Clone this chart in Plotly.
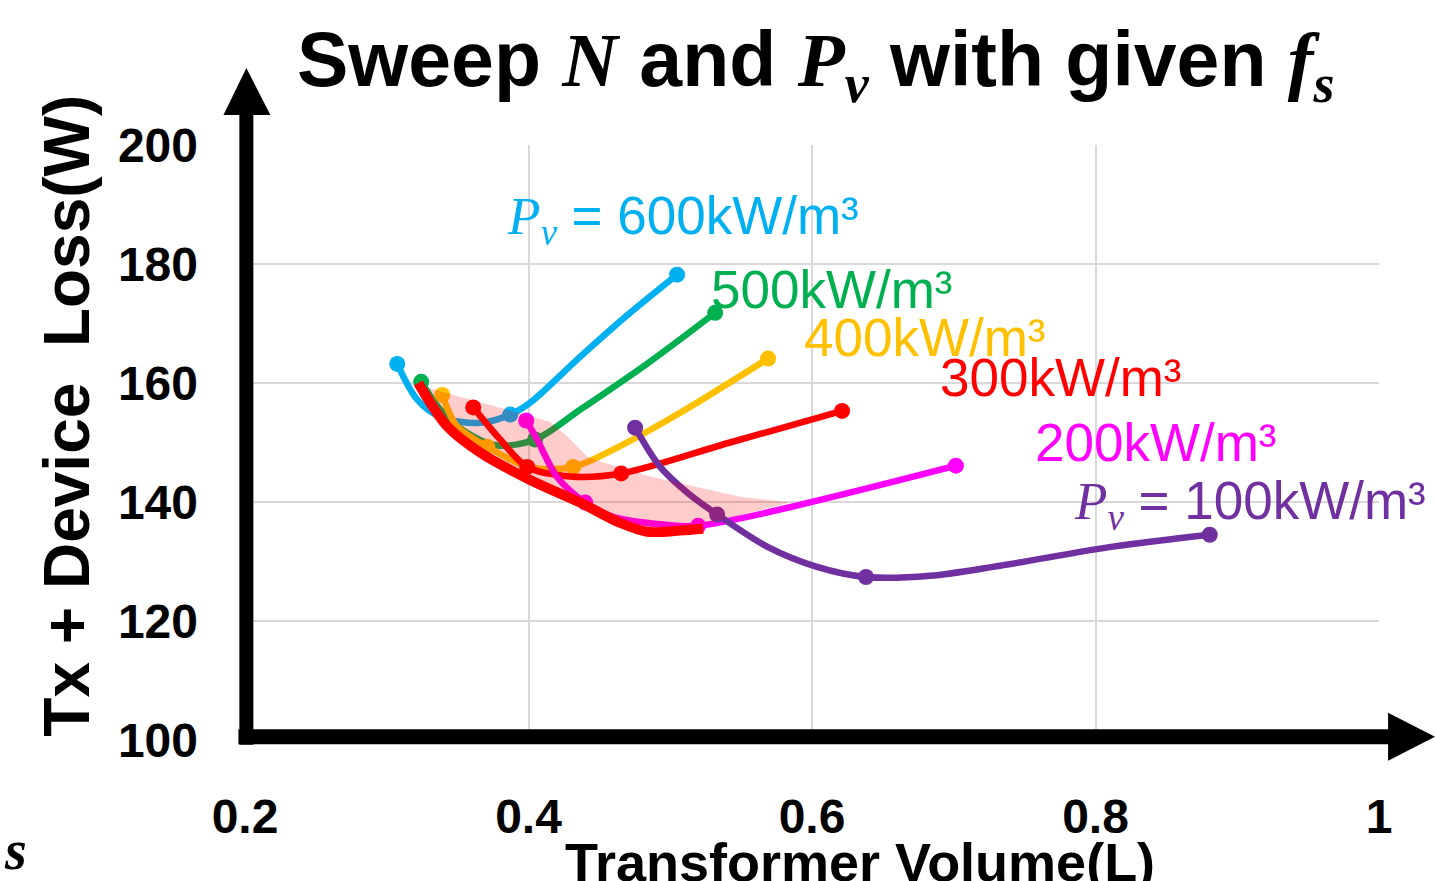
import plotly.graph_objects as go

# ---------------- data ----------------
# Pv = 600 kW/m3
x_600 = [0.3074, 0.3215, 0.3378, 0.3660, 0.3871, 0.4012, 0.4364, 0.4717, 0.5048]
y_600 = [163.2, 157.2, 154.3, 153.3, 154.7, 156.7, 164.4, 171.8, 178.2]
mk_600 = [0, 4, 8]
# Pv = 500 kW/m3
x_500 = [0.3243, 0.3378, 0.3553, 0.3779, 0.4047, 0.4364, 0.4858, 0.5317]
y_500 = [160.2, 155.5, 151.8, 149.5, 150.5, 155.5, 163.6, 171.8]
mk_500 = [0, 4, 7]
# Pv = 400 kW/m3
x_400 = [0.3392, 0.3497, 0.3709, 0.4012, 0.4315, 0.4597, 0.5070, 0.5690]
y_400 = [158.0, 152.7, 149.3, 145.8, 145.9, 148.8, 155.0, 164.1]
mk_400 = [0, 2, 4, 7]
# Pv = 300 kW/m3
x_300 = [0.3610, 0.3800, 0.3991, 0.4294, 0.4654, 0.5422, 0.6212]
y_300 = [155.9, 150.5, 145.9, 144.3, 144.8, 150.0, 155.3]
mk_300 = [0, 2, 4, 6]
# Pv = 200 kW/m3
x_200 = [0.3984, 0.4061, 0.4202, 0.4400, 0.4597, 0.4950, 0.5197, 0.7015]
y_200 = [153.7, 150.5, 144.2, 139.9, 137.5, 136.2, 136.0, 146.1]
mk_200 = [0, 3, 6, 7]
# Pv = 100 kW/m3
x_100 = [0.4752, 0.4929, 0.5119, 0.5331, 0.5683, 0.6035, 0.6381, 0.6832, 0.7326, 0.8122, 0.8806]
y_100 = [152.5, 145.9, 141.6, 137.9, 132.5, 129.1, 127.4, 127.6, 129.3, 132.5, 134.5]
mk_100 = [0, 3, 6, 10]

# optimal front (thick red)
x_front = [0.3222, 0.3427, 0.3660, 0.4012, 0.4364, 0.4646, 0.4837, 0.5070, 0.5232]
y_front = [160.0, 152.7, 148.3, 143.7, 139.9, 136.5, 135.0, 135.2, 135.5]

# upper edge of the shaded band
x_band = [0.3286, 0.3660, 0.4153, 0.4273, 0.4414, 0.4505, 0.4858, 0.5492, 0.5845]
y_band = [159.2, 156.7, 153.5, 151.0, 147.6, 146.8, 144.3, 140.9, 139.9]

labels = ["600kW/m³", "500kW/m³", "400kW/m³", "300kW/m³", "200kW/m³", "100kW/m³"]
colors = ["#00B0F0", "#00B050", "#FFC000", "#FF0000", "#FF00FF", "#7030A0"]

x_ticks = [0.2, 0.4, 0.6, 0.8, 1.0]
x_ticktext = ["0.2", "0.4", "0.6", "0.8", "1"]
y_ticks = [100, 120, 140, 160, 180, 200]

# ---------------- figure ----------------
fig = go.Figure()
series = [(x_600, y_600, mk_600), (x_500, y_500, mk_500), (x_400, y_400, mk_400),
          (x_300, y_300, mk_300), (x_200, y_200, mk_200), (x_100, y_100, mk_100)]

for (xs, ys, mk), c in zip(series, colors):
    fig.add_trace(go.Scatter(x=xs, y=ys, mode="lines",
                             line=dict(color=c, width=6.5, shape="spline", smoothing=0.9),
                             hoverinfo="skip"))
    fig.add_trace(go.Scatter(x=[xs[i] for i in mk], y=[ys[i] for i in mk], mode="markers",
                             marker=dict(color=c, size=16), hoverinfo="skip"))

# shaded band (drawn over the thin curves, semi-transparent)
band_x = x_band + [x_200[6]] + x_front[::-1]
band_y = y_band + [y_200[6]] + y_front[::-1]
fig.add_trace(go.Scatter(x=band_x, y=band_y, mode="lines", fill="toself",
                         fillcolor="rgba(255,0,0,0.2)", line=dict(width=0, color="rgba(0,0,0,0)"),
                         hoverinfo="skip"))

fig.add_trace(go.Scatter(x=x_front, y=y_front, mode="lines",
                         line=dict(color="#FF0000", width=10, shape="spline", smoothing=0.9),
                         hoverinfo="skip"))

MATH = "font-family:'Liberation Serif',serif"
pv = f"<span style=\"{MATH}\"><i>P<sub>v</sub></i></span>"

ann = []
label_pos = [(0.2296, 0.874, pv + " = " + labels[0]),
             (0.4094, 0.7564, labels[1]),
             (0.4914, 0.6758, labels[2]),
             (0.6112, 0.6086, labels[3]),
             (0.6950, 0.4994, labels[4]),
             (0.7293, 0.3952, pv + " = " + labels[5])]
for (x, y, t), c in zip(label_pos, colors):
    ann.append(dict(x=x, y=y, xref="paper", yref="paper", text=t, showarrow=False,
                    xanchor="left", yanchor="middle", font=dict(size=53, color=c)))

title = (f"<b>Sweep <span style=\"{MATH}\"><i>N</i></span> and {pv} "
         f"with given <span style=\"{MATH}\"><i>f<sub>s</sub></i></span></b>")
ann.append(dict(x=0.5035, y=1.135, xref="paper", yref="paper", text=title, showarrow=False,
                xanchor="center", yanchor="middle", font=dict(size=77, color="black")))
ann.append(dict(x=-0.157, y=0.545, xref="paper", yref="paper", text="<b>Tx + Device\u00a0 Loss(W)</b>",
                textangle=-90, showarrow=False, xanchor="center", yanchor="middle",
                font=dict(size=64, color="black")))
ann.append(dict(x=0.5425, y=-0.2044, xref="paper", yref="paper", text="<b>Transformer Volume(L)</b>",
                showarrow=False, xanchor="center", yanchor="middle", font=dict(size=54, color="black")))
ann.append(dict(x=-0.2024, y=-0.1843, xref="paper", yref="paper",
                text=f"<span style=\"{MATH}\"><b><i>s</i></b></span>",
                showarrow=False, xanchor="center", yanchor="middle", font=dict(size=56, color="black")))

shapes = [
    # y axis arrow
    dict(type="line", xref="paper", yref="paper", x0=0.0012, x1=0.0012, y0=-0.008, y1=1.051,
         line=dict(color="black", width=14)),
    dict(type="path", xref="paper", yref="paper", path="M -0.0190 1.0504 L 0.0224 1.0504 L 0.0012 1.1294 Z",
         fillcolor="black", line=dict(width=0)),
    # x axis arrow
    dict(type="line", xref="paper", yref="paper", x0=-0.0058, x1=1.0097, y0=0.0055, y1=0.0055,
         line=dict(color="black", width=15)),
    dict(type="path", xref="paper", yref="paper", path="M 1.0080 0.0458 L 1.0080 -0.0348 L 1.0494 0.0055 Z",
         fillcolor="black", line=dict(width=0)),
]

fig.update_layout(
    width=1435, height=881,
    margin=dict(l=245, r=56, t=145, b=141),
    paper_bgcolor="white", plot_bgcolor="white",
    showlegend=False,
    font=dict(family="Liberation Sans, Arial, sans-serif", color="black"),
    annotations=ann, shapes=shapes,
    xaxis=dict(range=[0.2, 1.0], tickvals=x_ticks, ticktext=x_ticktext, showgrid=True,
               gridcolor="#D9D9D9", gridwidth=2, zeroline=False, showline=False, ticks="",
               tickfont=dict(size=48, weight="bold", color="black"), ticklabelstandoff=44,
               automargin=False),
    yaxis=dict(range=[100, 200], tickvals=y_ticks, showgrid=True, gridcolor="#D9D9D9",
               gridwidth=2, zeroline=False, showline=False, ticks="",
               tickfont=dict(size=48, weight="bold", color="black"), ticklabelstandoff=46,
               automargin=False),
)

fig.write_html("out.html", config={"displayModeBar": False},
               post_script="document.body.style.margin='0px';document.body.style.overflow='hidden';")
